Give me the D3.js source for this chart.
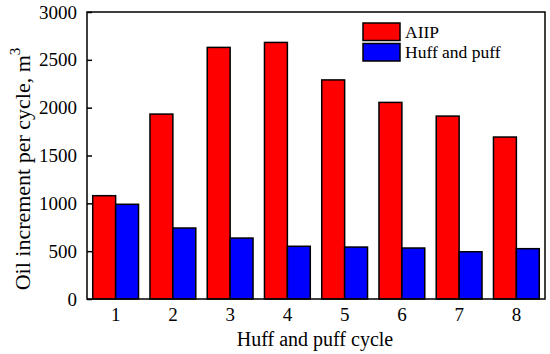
<!DOCTYPE html>
<html>
<head>
<meta charset="utf-8">
<script src="https://cdn.jsdelivr.net/npm/d3@7"></script>
<style>
  body { margin: 0; background: #fff; }
  svg text { font-family: "Liberation Serif", "Times New Roman", serif; fill: #000; }
</style>
</head>
<body>
<svg id="chart" width="550" height="354"></svg>
<script>
// Data
const cycles = ["1", "2", "3", "4", "5", "6", "7", "8"];
const aiipValues = [1080, 1933, 2630, 2682, 2290, 2055, 1912, 1693];
const huffValues = [990, 742, 637, 551, 543, 533, 494, 526];
const seriesNames = ["AIIP", "Huff and puff"];
const seriesColors = ["#ff0000", "#0000ff"];
const yTicks = [0, 500, 1000, 1500, 2000, 2500, 3000];

const margin = { left: 87, right: 5, top: 12, bottom: 55 };
const width = 550;
const height = 354;
const serif = '"Liberation Serif", "Times New Roman", serif';

const svg = d3.select("#chart");

const x = d3.scaleBand()
  .domain(cycles)
  .range([margin.left, width - margin.right])
  .paddingInner(0.2)
  .paddingOuter(0.1);

const xSub = d3.scaleBand()
  .domain(seriesNames)
  .range([0, x.bandwidth()]);

const y = d3.scaleLinear()
  .domain([0, 3000])
  .range([height - margin.bottom, margin.top]);

const rows = cycles.map((c, i) => ({
  cycle: c,
  values: [aiipValues[i], huffValues[i]]
}));

// Bars
const groups = svg.append("g")
  .selectAll("g")
  .data(rows)
  .join("g")
  .attr("transform", d => `translate(${x(d.cycle)},0)`);

groups.selectAll("rect")
  .data(d => d.values.map((v, j) => ({ name: seriesNames[j], value: v, color: seriesColors[j] })))
  .join("rect")
  .attr("x", d => xSub(d.name))
  .attr("y", d => y(d.value))
  .attr("width", xSub.bandwidth())
  .attr("height", d => y(0) - y(d.value))
  .attr("fill", d => d.color)
  .attr("stroke", "#000")
  .attr("stroke-width", 1.5);

// Y axis (ticks pointing inward)
const yAxis = svg.append("g")
  .attr("transform", `translate(${margin.left},0)`)
  .call(d3.axisLeft(y).tickValues(yTicks).tickFormat(d3.format("d"))
    .tickSizeInner(-5).tickSizeOuter(0).tickPadding(10));
yAxis.attr("font-family", serif).attr("font-size", 19);
yAxis.select(".domain").remove();
yAxis.selectAll("line").attr("stroke-width", 1.5);
yAxis.selectAll("text").attr("fill", "#000");

// X axis labels (no tick marks)
const xAxis = svg.append("g")
  .attr("transform", `translate(0,${height - margin.bottom})`)
  .call(d3.axisBottom(x).tickSize(0).tickPadding(9));
xAxis.attr("font-family", serif).attr("font-size", 19);
xAxis.select(".domain").remove();
xAxis.selectAll("text").attr("fill", "#000");

// Frame
svg.append("rect")
  .attr("x", margin.left)
  .attr("y", margin.top)
  .attr("width", width - margin.right - margin.left)
  .attr("height", height - margin.bottom - margin.top)
  .attr("fill", "none")
  .attr("stroke", "#000")
  .attr("stroke-width", 1.5);

// Axis titles
svg.append("text")
  .attr("x", 315)
  .attr("y", 346)
  .attr("text-anchor", "middle")
  .style("font-size", "20px")
  .text("Huff and puff cycle");

const yLabel = svg.append("text")
  .attr("transform", `translate(30,${169}) rotate(-90)`)
  .attr("text-anchor", "middle")
  .style("font-size", "22px");
yLabel.append("tspan").text("Oil increment per cycle, m");
yLabel.append("tspan").attr("dy", -10).style("font-size", "15px").text("3");

// Legend
const legend = svg.append("g").attr("transform", "translate(363,23)");
seriesNames.forEach((name, i) => {
  const row = legend.append("g").attr("transform", `translate(0,${i * 20.5})`);
  row.append("rect")
    .attr("width", 37)
    .attr("height", 17.5)
    .attr("fill", seriesColors[i])
    .attr("stroke", "#000")
    .attr("stroke-width", 1.5);
  row.append("text")
    .attr("x", 42)
    .attr("y", 14.5)
    .style("font-size", "17.5px")
    .text(name);
});
</script>
</body>
</html>
